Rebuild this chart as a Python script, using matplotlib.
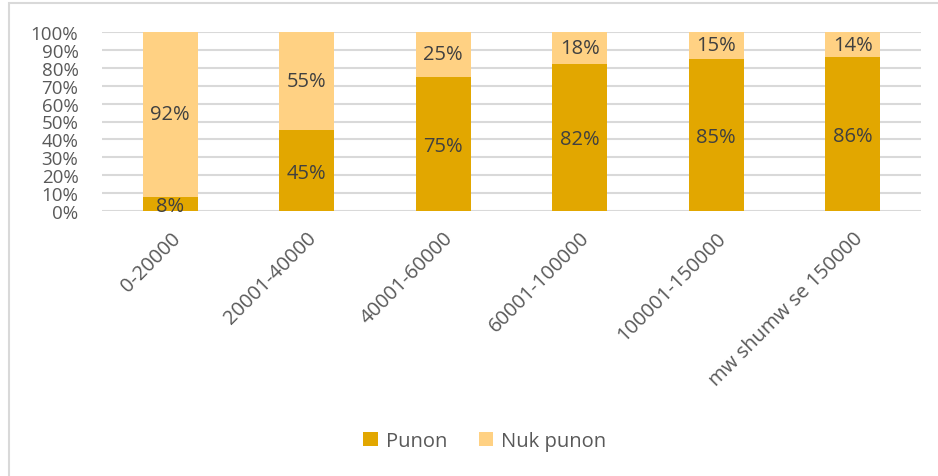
import matplotlib
matplotlib.use("Agg")
import matplotlib.pyplot as plt
from matplotlib.patches import Rectangle
import numpy as np

categories = ["0-20000", "20001-40000", "40001-60000", "60001-100000", "100001-150000", "mw shumw se 150000"]
punon = [8, 45, 75, 82, 85, 86]
nuk_punon = [92, 55, 25, 18, 15, 14]
y_ticks = [0, 10, 20, 30, 40, 50, 60, 70, 80, 90, 100]

DARK = "#E2A700"
LIGHT = "#FFD183"
TEXT = "#404040"
TICK = "#595959"

plt.rcParams["font.family"] = ["Open Sans", "DejaVu Sans"]

fig = plt.figure(figsize=(9.38, 4.77), dpi=100)
ax = fig.add_axes([102 / 938, 1 - 212 / 477, (921 - 102) / 938, (212 - 33) / 477])

x = np.arange(len(categories))
ax.bar(x, punon, width=0.4, color=DARK, label="Punon", zorder=3)
ax.bar(x, nuk_punon, width=0.4, bottom=punon, color=LIGHT, label="Nuk punon", zorder=3)

for xi, p, n in zip(x, punon, nuk_punon):
    ax.text(xi, p / 2 - 1, f"{p}%", ha="center", va="center", fontsize=14.5, color=TEXT, zorder=4)
    ax.text(xi, p + n / 2, f"{n}%", ha="center", va="center", fontsize=14.5, color=TEXT, zorder=4)

ax.set_xlim(-0.5, len(categories) - 0.5)
ax.set_ylim(0, 100)
ax.set_yticks(y_ticks)
ax.set_yticklabels([f"{v}%" for v in y_ticks], fontsize=13.5, color=TICK)
ax.set_xticks(x)
ax.set_xticklabels(categories, rotation=45, ha="right", rotation_mode="anchor", fontsize=14.5, color=TICK)
ax.tick_params(axis="x", length=0, pad=12)
ax.tick_params(axis="y", length=0, pad=17)
ax.grid(axis="y", color="#D9D9D9", linewidth=1.5, zorder=0)
for s in ax.spines.values():
    s.set_visible(False)

# chart frame
fig.patches.append(Rectangle((9 / 938, -0.02), 2, 1.02 - 4 / 477, transform=fig.transFigure,
                             fill=False, edgecolor="#D9D9D9", linewidth=1.5))

fig.legend(loc="center", bbox_to_anchor=(485 / 938, 1 - 442 / 477), ncol=2, frameon=False,
           fontsize=14.5, handlelength=0.7, handleheight=0.7, columnspacing=1.6,
           handletextpad=0.4, labelcolor=TICK)

fig.savefig("out.png", dpi=100)
